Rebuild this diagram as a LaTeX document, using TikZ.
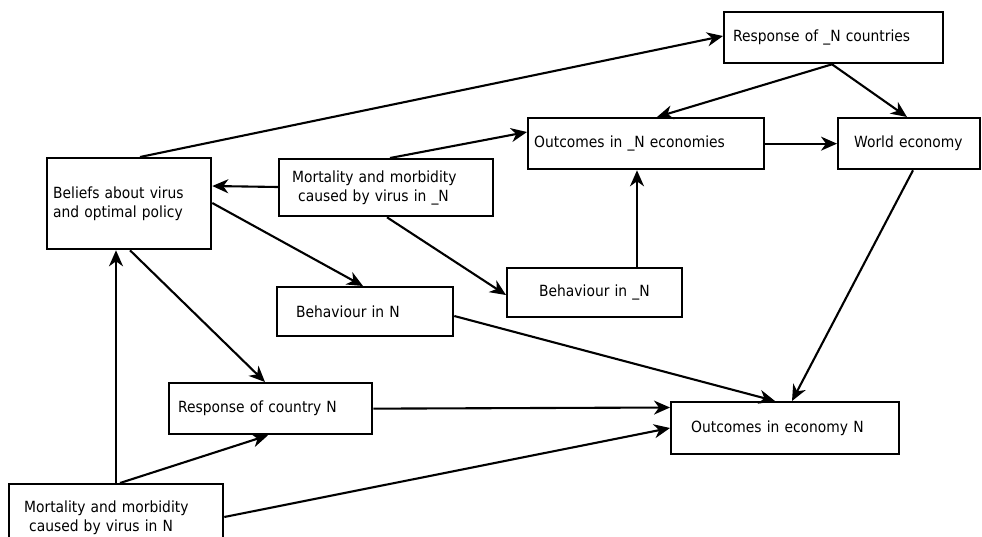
\documentclass[tikz,border=0pt]{standalone}
\usepackage{fontspec}
\setmainfont{DejaVu Sans}[FakeStretch=0.9]
\usetikzlibrary{arrows.meta}
\begin{document}
\begin{tikzpicture}[x=1pt,y=-1pt,
  box/.style={draw, line width=2.3pt, anchor=north west, inner xsep=3pt, inner ysep=0pt,
    align=left, font=\fontsize{15.4}{19}\selectfont},
  arr/.style={line width=2.1pt, -{Stealth[length=16pt,width=14pt,inset=5pt]}}]
\useasboundingbox (0,0) rectangle (982,536);
% boxes
\node[box, text width=213pt, minimum height=51pt] (RN) at (723,11) {\hspace*{6pt}Response of \_N countries};
\node[box, text width=230pt, minimum height=51pt] (ON) at (527,117) {\hspace*{3pt}Outcomes in \_N economies};
\node[box, text width=136pt, minimum height=51pt] (WE) at (837,117) {\hspace*{13pt}World economy};
\node[box, text width=158pt, minimum height=91pt] (BL) at (46,157) {\hspace*{3pt}Beliefs about virus\\\hspace*{3pt}and optimal policy};
\node[box, text width=208pt, minimum height=57pt] (MN) at (278,158) {\hspace*{10pt}Mortality and morbidity\\\hspace*{16pt}caused by virus in \_N};
\node[box, text width=169pt, minimum height=49pt] (BeN) at (506,267) {\hspace*{29pt}Behaviour in \_N};
\node[box, text width=170pt, minimum height=49pt] (BeNN) at (276,286) {\hspace*{16pt}Behaviour in N};
\node[box, text width=197pt, minimum height=51pt] (RC) at (168,382) {\hspace*{6pt}Response of country N};
\node[box, text width=222pt, minimum height=52pt] (OE) at (670,401) {\hspace*{17pt}Outcomes in economy N};
\node[box, text width=208pt, minimum height=67pt] (MNN) at (8,483) {\hspace*{12pt}Mortality and morbidity\\\hspace*{17pt}caused by virus in N};
% connectors
\draw[arr] ([xshift=94pt]BL.north west) -- ([yshift=-25pt]RN.north west);
\draw[arr] ([xshift=112pt]MN.north west) -- ([yshift=-15pt]ON.north west);
\draw[arr] ([xshift=109pt]RN.south west) -- ([xshift=130pt]ON.north west);
\draw[arr] ([xshift=109pt]RN.south west) -- ([xshift=70pt]WE.north west);
\draw[arr] (ON.east) -- (WE.west);
\draw[arr] ([yshift=-29pt]MN.north west) -- ([yshift=-29pt]BL.north east);
\draw[arr] ([xshift=109pt]MN.south west) -- ([yshift=-28pt]BeN.north west);
\draw[arr] ([yshift=-46pt]BL.north east) -- ([xshift=87pt]BeNN.north west);
\draw[arr] ([xshift=84pt]BL.south west) -- ([xshift=97pt]RC.north west);
\draw[arr] ([xshift=108pt]MNN.north west) -- ([xshift=70pt]BL.south west);
\draw[arr] ([xshift=112pt]MNN.north west) -- ([xshift=100pt]RC.south west);
\draw[arr] ([yshift=-34pt]MNN.north east) -- ([yshift=-27pt]OE.north west);
\draw[arr] (RC.east) -- ([yshift=-6.5pt]OE.north west);
\draw[arr] ([yshift=-30pt]BeNN.north east) -- ([xshift=105pt]OE.north west);
\draw[arr] ([xshift=76pt]WE.south west) -- ([xshift=122pt]OE.north west);
\draw[arr] ([xshift=131pt]BeN.north west) -- ([xshift=110pt]ON.south west);
\end{tikzpicture}
\end{document}
